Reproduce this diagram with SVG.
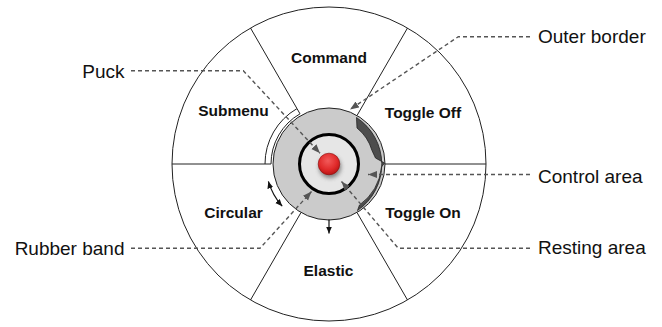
<svg xmlns="http://www.w3.org/2000/svg" width="662" height="327" viewBox="0 0 662 327">
<style>
.div{stroke:#222;stroke-width:1;fill:none}
.lab{font-family:"Liberation Sans",Arial,sans-serif;font-weight:bold;font-size:15.5px;fill:#111;text-anchor:middle}
.call{font-family:"Liberation Sans",Arial,sans-serif;font-size:19px;fill:#111}
.lead{stroke:#555;stroke-width:1.4;stroke-dasharray:4 3;fill:none;marker-end:url(#ga)}
</style>
<defs>
<marker id="ga" markerUnits="userSpaceOnUse" markerWidth="10" markerHeight="8" refX="9" refY="3.5" orient="auto">
<path d="M0,0 L9,3.5 L0,7 z" fill="#555"/>
</marker>
<marker id="ba" markerUnits="userSpaceOnUse" markerWidth="8" markerHeight="7" refX="7" refY="3" orient="auto-start-reverse">
<path d="M0,0 L7,3 L0,6 z" fill="#111"/>
</marker>
<radialGradient id="red" cx="0.45" cy="0.35" r="0.7">
<stop offset="0" stop-color="#f25a5a"/>
<stop offset="0.6" stop-color="#e02a2a"/>
<stop offset="1" stop-color="#b01010"/>
</radialGradient>
<filter id="sh" x="-50%" y="-50%" width="200%" height="200%">
<feGaussianBlur stdDeviation="2.2"/>
</filter>
</defs>
<g id="menu">
<circle cx="329" cy="164" r="157" fill="#fff" stroke="#222" stroke-width="1"/>
<line class="div" x1="172" y1="164" x2="265" y2="164"/>
<line class="div" x1="385" y1="164" x2="486" y2="164"/>
<line class="div" x1="250.5" y1="28" x2="297" y2="108.6"/>
<line class="div" x1="407.5" y1="28" x2="357" y2="115.5"/>
<line class="div" x1="357" y1="212.5" x2="407.5" y2="300"/>
<line class="div" x1="301" y1="212.5" x2="250.5" y2="300"/>
</g>
<g id="label-command"><text class="lab" x="329" y="63">Command</text></g>
<g id="label-submenu"><text class="lab" x="233.5" y="116">Submenu</text></g>
<g id="label-toggle-off"><text class="lab" x="423" y="118">Toggle Off</text></g>
<g id="label-circular"><text class="lab" x="233.5" y="217.5">Circular</text></g>
<g id="label-toggle-on"><text class="lab" x="423" y="217.5">Toggle On</text></g>
<g id="label-elastic"><text class="lab" x="328.5" y="276">Elastic</text></g>
<g id="submenu-band">
<path d="M265,164 A64,64 0 0 1 297,108.6 L300,113.8 A58,58 0 0 0 271,164 Z" fill="#fff" stroke="#222" stroke-width="1"/>
</g>
<g id="control-area">
<circle cx="329" cy="164" r="56" fill="#cbcbcb" stroke="#222" stroke-width="1"/>
<path d="M356.5,117.5 A56,56 0 0 1 357.5,210.5 L359.5,205 A52,52 0 0 0 381.5,167 L384.5,163 L375.5,158 L372,150.5 A45,45 0 0 0 357,128 Z" fill="#4d4d4d" stroke="#222" stroke-width="0.8"/>
</g>
<g id="resting-area">
<circle cx="329" cy="164" r="29.5" fill="#e6e6e6" stroke="#000" stroke-width="3"/>
</g>
<g id="puck">
<circle cx="330" cy="167" r="11" fill="#555" opacity="0.7" filter="url(#sh)"/>
<circle cx="329" cy="164" r="10.8" fill="url(#red)" stroke="#8a0d0d" stroke-width="0.6"/>
</g>
<g id="motion-arrows">
<path d="M268.4,181.4 A63,63 0 0 0 282.2,206.2" fill="none" stroke="#111" stroke-width="1.2" marker-start="url(#ba)" marker-end="url(#ba)"/>
<line x1="329" y1="219.5" x2="329" y2="233.5" stroke="#111" stroke-width="1.2" marker-end="url(#ba)"/>
</g>
<g id="connectors">
<path class="lead" d="M131,70.7 L243.3,70.7 L320,153.3"/>
<path class="lead" d="M131,248.3 L260,248.3 L311.5,191.5"/>
<path class="lead" d="M530,36.7 L458.3,36.7 L350,109.5"/>
<path class="lead" d="M530,174.5 L368,174.5"/>
<path class="lead" d="M530,248.3 L398.3,248.3 L341.5,181.5"/>
</g>
<g id="callout-puck"><text class="call" x="124.5" y="77.5" text-anchor="end">Puck</text></g>
<g id="callout-rubber-band"><text class="call" x="124.5" y="255" text-anchor="end">Rubber band</text></g>
<g id="callout-outer-border"><text class="call" x="538" y="43">Outer border</text></g>
<g id="callout-control-area"><text class="call" x="538" y="182.5">Control area</text></g>
<g id="callout-resting-area"><text class="call" x="538" y="254">Resting area</text></g>
</svg>
